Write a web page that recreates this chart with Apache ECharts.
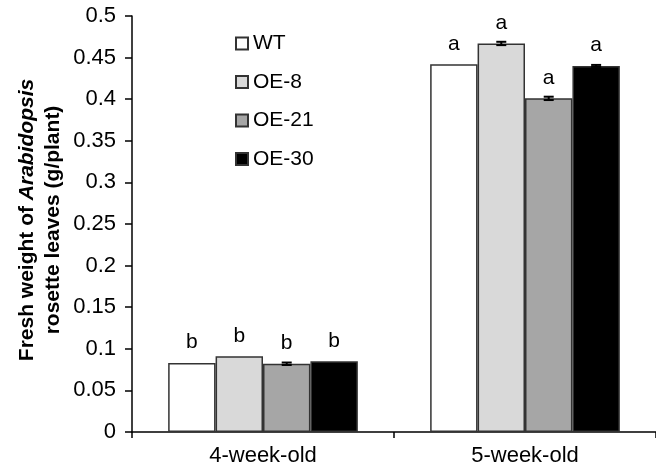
<!DOCTYPE html>
<html>
<head>
<meta charset="utf-8">
<script src="https://cdn.jsdelivr.net/npm/echarts@6/dist/echarts.min.js"></script>
<style>
html,body{margin:0;padding:0;background:#fff;}
#chart{width:656px;height:472px;}
</style>
</head>
<body>
<div id="chart"></div>
<script>
const categories = ['4-week-old', '5-week-old'];
const seriesNames = ['WT', 'OE-8', 'OE-21', 'OE-30'];
const valuesWT   = [0.083, 0.442];
const valuesOE8  = [0.091, 0.467];
const valuesOE21 = [0.082, 0.401];
const valuesOE30 = [0.085, 0.440];
const errWT   = [0.000, 0.000];
const errOE8  = [0.000, 0.002];
const errOE21 = [0.0015, 0.002];
const errOE30 = [0.000, 0.0012];
const lettersWT   = ['b', 'a'];
const lettersOE8  = ['b', 'a'];
const lettersOE21 = ['b', 'a'];
const lettersOE30 = ['b', 'a'];
const yTicks = [0, 0.05, 0.1, 0.15, 0.2, 0.25, 0.3, 0.35, 0.4, 0.45, 0.5];

const values = [valuesWT, valuesOE8, valuesOE21, valuesOE30];
const errors = [errWT, errOE8, errOE21, errOE30];
const letters = [lettersWT, lettersOE8, lettersOE21, lettersOE30];
const fills = ['#ffffff', '#d9d9d9', '#a6a6a6', '#000000'];
const BAR_FRAC = 0.181;
const FONT = 'Arial, "Liberation Sans", sans-serif';

const chart = echarts.init(document.getElementById('chart'), null, {renderer: 'canvas'});

const barSeries = seriesNames.map((name, si) => ({
  name: name,
  type: 'bar',
  barWidth: (BAR_FRAC * 100) + '%',
  barGap: '0%',
  data: values[si],
  itemStyle: {color: fills[si], borderColor: '#333', borderWidth: 1.5},
  label: {
    show: true,
    position: 'top',
    distance: 10,
    fontFamily: FONT,
    fontSize: 21,
    color: '#000',
    formatter: p => letters[si][p.dataIndex]
  },
  emphasis: {disabled: true},
  z: 2
}));

const errData = [];
errors.forEach((arr, si) => arr.forEach((e, ci) => errData.push([ci, values[si][ci], e, si])));

const errSeries = {
  type: 'custom',
  data: errData,
  encode: {x: 0, y: 1},
  z: 5,
  silent: true,
  renderItem: function (params, api) {
    const ci = api.value(0), v = api.value(1), e = api.value(2), si = api.value(3);
    if (!e) return null;
    const band = api.size([1, 0])[0];
    const bw = band * BAR_FRAC;
    const cx = api.coord([ci, v])[0] + (si - (seriesNames.length - 1) / 2) * bw;
    const yt = api.coord([ci, v + e])[1];
    const yb = api.coord([ci, v - e])[1];
    const hw = 5;
    const st = {stroke: '#000', lineWidth: 2};
    return {
      type: 'group',
      children: [
        {type: 'line', shape: {x1: cx, y1: yt, x2: cx, y2: yb}, style: st},
        {type: 'line', shape: {x1: cx - hw, y1: yt, x2: cx + hw, y2: yt}, style: st},
        {type: 'line', shape: {x1: cx - hw, y1: yb, x2: cx + hw, y2: yb}, style: st}
      ]
    };
  }
};

chart.setOption({
  animation: false,
  backgroundColor: '#fff',
  grid: {left: 132, top: 16, width: 530, bottom: 40, containLabel: false},
  legend: {
    data: seriesNames,
    orient: 'vertical',
    left: 235,
    top: 33,
    padding: 0,
    itemWidth: 12,
    itemHeight: 12,
    itemGap: 17.5,
    icon: 'rect',
    selectedMode: false,
    textStyle: {fontFamily: FONT, fontSize: 21, color: '#000', lineHeight: 20}
  },
  xAxis: {
    type: 'category',
    data: categories,
    axisLine: {lineStyle: {color: '#000', width: 1.5}},
    axisTick: {show: true, length: 6, lineStyle: {color: '#000', width: 1.5}},
    axisLabel: {fontFamily: FONT, fontSize: 22, color: '#000', margin: 13}
  },
  yAxis: {
    type: 'value',
    min: 0,
    max: 0.5,
    interval: 0.05,
    splitLine: {show: false},
    axisLine: {show: true, lineStyle: {color: '#000', width: 1.5}},
    axisTick: {show: true, length: 7, lineStyle: {color: '#000', width: 1.5}},
    axisLabel: {
      fontFamily: FONT, fontSize: 22, color: '#000', margin: 16,
      formatter: function (v) {
        let best = yTicks[0];
        yTicks.forEach(t => { if (Math.abs(t - v) < Math.abs(best - v)) best = t; });
        return String(best);
      }
    }
  },
  graphic: [{
    type: 'text',
    x: 40,
    y: 220,
    rotation: Math.PI / 2,
    style: {
      text: '{b|Fresh weight of }{bi|Arabidopsis}\n{b|rosette leaves (g/plant)}',
      align: 'center',
      verticalAlign: 'middle',
      rich: {
        b: {fontFamily: FONT, fontSize: 21, fontWeight: 'bold', fill: '#000', lineHeight: 26, align: 'center'},
        bi: {fontFamily: FONT, fontSize: 21, fontWeight: 'bold', fontStyle: 'italic', fill: '#000', lineHeight: 26, align: 'center'}
      }
    }
  }],
  series: barSeries.concat([errSeries])
});
</script>
</body>
</html>
